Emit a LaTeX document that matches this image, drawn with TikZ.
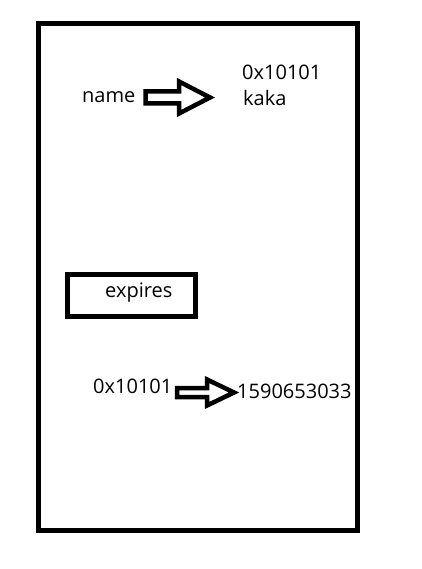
\documentclass[tikz,border=0pt]{standalone}
\usepackage{fontspec}
\setmainfont{Open Sans}
\begin{document}
\begin{tikzpicture}[x=1pt,y=-1pt,
  lbl/.style={inner sep=0pt,anchor=base west,font=\fontsize{20}{24}\selectfont},
  frame/.style={draw=black,line width=5pt,miter limit=10},
  fat/.style={draw=black,line width=4.5pt,line join=miter,miter limit=10}]
\useasboundingbox (0,0) rectangle (422,569);
% texts
\node[lbl] (name) at (82,103) {name};
\node[lbl] (addr) at (242,80) {0x10101};
\node[lbl] (kaka) at (243,106) {kaka};
\node[lbl] (exp) at (105,297) {expires};
\node[lbl] (addr2) at (93,393) {0x10101};
\node[lbl] (time) at (237,398) {1590653033};
% outer frame
\draw[frame] (38.5,23.5) rectangle (357.5,530.5);
% expires box
\draw[frame] (67.5,274.5) rectangle (195,316.5);
% block arrow 1 (from name towards the value)
\coordinate (a1s) at (145.5,97.5);
\coordinate (a1t) at (210,97.5);
\draw[fat] (145.5,91.5) -- (179,91.5) -- (179,81.5) -- (a1t) -- (179,113.5) -- (179,103.5) -- (145.5,103.5) -- cycle;
% block arrow 2
\coordinate (a2s) at (177,392.5);
\coordinate (a2t) at (234,392.5);
\draw[fat] (177,388) -- (207,388) -- (207,379.5) -- (a2t) -- (207,405.5) -- (207,397) -- (177,397) -- cycle;
\end{tikzpicture}
\end{document}
